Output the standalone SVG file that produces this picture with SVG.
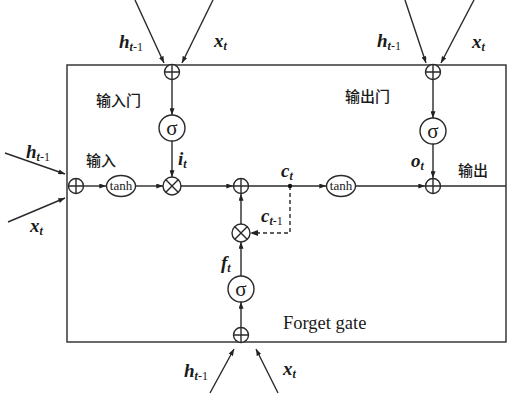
<svg xmlns="http://www.w3.org/2000/svg" width="508" height="400" viewBox="0 0 508 400">
<defs>
<marker id="ah" viewBox="0 0 8 6" refX="8" refY="3" markerWidth="7" markerHeight="5" markerUnits="userSpaceOnUse" orient="auto">
<path d="M0,0 L8,3 L0,6 Z" fill="#222"/>
</marker>
</defs>
<style>
.ln{stroke:#2a2a2a;stroke-width:1.4;fill:none}
.ar{stroke:#2a2a2a;stroke-width:1.4;fill:none;marker-end:url(#ah)}
.ds{stroke:#2a2a2a;stroke-width:1.4;fill:none;stroke-dasharray:4 3}
.nd{stroke:#2a2a2a;stroke-width:1.4;fill:#fff}
.v{font-family:"Liberation Serif","Times New Roman",serif;font-weight:bold;font-style:italic;font-size:19px;fill:#1a1a1a}
.s{font-family:"Liberation Serif","Times New Roman",serif;font-size:12px;fill:#1a1a1a}
.si{font-style:italic;font-weight:bold}
.cn{font-family:"Noto Sans CJK SC","Noto Sans",sans-serif;font-size:15px;font-weight:500;fill:#1a1a1a}
.en{font-family:"Liberation Serif","Times New Roman",serif;font-size:18.5px;fill:#1a1a1a}
.sg{font-family:"Liberation Serif","Times New Roman",serif;font-size:21px;fill:#1a1a1a;text-anchor:middle}
.th{font-family:"Liberation Serif","Times New Roman",serif;font-size:13px;fill:#1a1a1a;text-anchor:middle}
</style>
<rect x="67" y="65" width="439" height="277" class="ln"/>
<g id="connectors">
<line class="ar" x1="135" y1="0" x2="164" y2="63"/>
<line class="ar" x1="213" y1="0" x2="182" y2="63"/>
<line class="ar" x1="405" y1="0" x2="426" y2="63"/>
<line class="ar" x1="474" y1="0" x2="441" y2="63"/>
<line class="ar" x1="5" y1="153" x2="65" y2="174"/>
<line class="ar" x1="8" y1="222" x2="65" y2="198"/>
<line class="ar" x1="210" y1="393" x2="234" y2="349"/>
<line class="ar" x1="278" y1="393" x2="256" y2="349"/>
<line class="ar" x1="83.5" y1="186" x2="106" y2="186"/>
<line class="ar" x1="135" y1="186" x2="163" y2="186"/>
<line class="ar" x1="181" y1="186" x2="233" y2="186"/>
<line class="ar" x1="248.5" y1="186" x2="326" y2="186"/>
<line class="ar" x1="356" y1="186" x2="425" y2="186"/>
<line class="ln" x1="440.5" y1="186" x2="506" y2="186"/>
<line class="ar" x1="172" y1="79.5" x2="172" y2="115"/>
<line class="ar" x1="172" y1="141" x2="172" y2="177"/>
<line class="ar" x1="433" y1="79.5" x2="433" y2="118"/>
<line class="ar" x1="433" y1="144" x2="433" y2="178"/>
<line class="ar" x1="241" y1="327.5" x2="241" y2="302"/>
<line class="ar" x1="241" y1="276" x2="241" y2="242"/>
<line class="ar" x1="241" y1="224" x2="241" y2="194"/>
<polyline class="ds" points="290,186 290,233 252,233"/>
<path d="M258,230 L250,233 L258,236 Z" fill="#222"/>
<circle cx="290" cy="186" r="2.2" fill="#111"/>
</g>
<g id="add_in"><circle class="nd" cx="76" cy="186" r="7.5"/><path class="ln" d="M68.5,186H83.5M76,178.5V193.5"/></g>
<g id="tanh1"><ellipse class="nd" cx="121" cy="186" rx="14.5" ry="10.5"/><text class="th" x="121" y="190">tanh</text></g>
<g id="mul_i"><circle class="nd" cx="172" cy="186" r="9"/><path class="ln" d="M165.6,179.6L178.4,192.4M178.4,179.6L165.6,192.4"/></g>
<g id="add_c"><circle class="nd" cx="241" cy="186" r="7.5"/><path class="ln" d="M233.5,186H248.5M241,178.5V193.5"/></g>
<g id="tanh2"><ellipse class="nd" cx="341" cy="186" rx="14.5" ry="10.5"/><text class="th" x="341" y="190">tanh</text></g>
<g id="add_o"><circle class="nd" cx="433" cy="186" r="7.5"/><path class="ln" d="M425.5,186H440.5M433,178.5V193.5"/></g>
<g id="add_ig"><circle class="nd" cx="172" cy="72" r="7.5"/><path class="ln" d="M164.5,72H179.5M172,64.5V79.5"/></g>
<g id="sig_i"><circle class="nd" cx="172" cy="128" r="13"/><text class="sg" x="172" y="135">σ</text></g>
<g id="add_og"><circle class="nd" cx="433" cy="72" r="7.5"/><path class="ln" d="M425.5,72H440.5M433,64.5V79.5"/></g>
<g id="sig_o"><circle class="nd" cx="433" cy="131" r="13"/><text class="sg" x="433" y="138">σ</text></g>
<g id="mul_f"><circle class="nd" cx="241" cy="233" r="9"/><path class="ln" d="M234.6,226.6L247.4,239.4M247.4,226.6L234.6,239.4"/></g>
<g id="sig_f"><circle class="nd" cx="241" cy="289" r="13"/><text class="sg" x="241" y="296">σ</text></g>
<g id="add_fg"><circle class="nd" cx="241" cy="335" r="7.5"/><path class="ln" d="M233.5,335H248.5M241,327.5V342.5"/></g>
<g id="labels">
<text x="119" y="48"><tspan class="v">h</tspan><tspan class="s" dy="3"><tspan class="si">t</tspan>-1</tspan></text>
<text x="214" y="47"><tspan class="v">x</tspan><tspan class="s si" dy="3">t</tspan></text>
<text x="377" y="47"><tspan class="v">h</tspan><tspan class="s" dy="3"><tspan class="si">t</tspan>-1</tspan></text>
<text x="472" y="48"><tspan class="v">x</tspan><tspan class="s si" dy="3">t</tspan></text>
<text x="26" y="158"><tspan class="v">h</tspan><tspan class="s" dy="3"><tspan class="si">t</tspan>-1</tspan></text>
<text x="30" y="232"><tspan class="v">x</tspan><tspan class="s si" dy="3">t</tspan></text>
<text x="184" y="377"><tspan class="v">h</tspan><tspan class="s" dy="3"><tspan class="si">t</tspan>-1</tspan></text>
<text x="283" y="375"><tspan class="v">x</tspan><tspan class="s si" dy="3">t</tspan></text>
<text x="178" y="165"><tspan class="v">i</tspan><tspan class="s si" dy="3">t</tspan></text>
<text x="411" y="167"><tspan class="v">o</tspan><tspan class="s si" dy="3">t</tspan></text>
<text x="281" y="177"><tspan class="v">c</tspan><tspan class="s si" dy="3">t</tspan></text>
<text x="261" y="222"><tspan class="v">c</tspan><tspan class="s" dy="3"><tspan class="si">t</tspan>-1</tspan></text>
<text x="221" y="269"><tspan class="v">f</tspan><tspan class="s si" dy="3">t</tspan></text>
<text class="cn" x="96" y="106">输入门</text>
<text class="cn" x="345" y="102">输出门</text>
<text class="cn" x="86" y="166">输入</text>
<text class="cn" x="458" y="176">输出</text>
<text class="en" x="283" y="329">Forget gate</text>
</g>
</svg>
